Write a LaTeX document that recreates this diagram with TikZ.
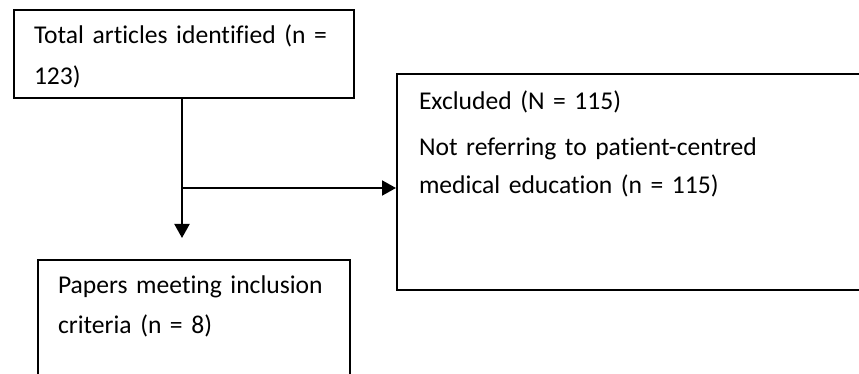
\documentclass[tikz,border=0pt]{standalone}
\usepackage{fontspec}
\setmainfont{Carlito}[Ligatures=NoCommon]
\usetikzlibrary{positioning, arrows.meta}

\begin{document}
\begin{tikzpicture}[
    x=0.5pt, y=-0.5pt,
    box/.style={draw, line width=1pt, anchor=north west, align=left, font=\fontsize{12.8}{20.5}\selectfont, inner xsep=10pt, inner ysep=8pt, text height=9pt},
    arr/.style={line width=1pt, -{Triangle[length=7pt, width=7.5pt]}}
  ]
  \useasboundingbox (0,0) rectangle (859,374);
  \clip (0,0) rectangle (859,374);

  \node[box, text width=150pt, text depth=19pt] (total) at (13,9) {Total~articles~identified~(n~=\\123)};
  \node[box, inner xsep=11pt, inner ysep=9pt, text width=218pt, text depth=81pt] (excluded) at (396,73) {Excluded (N = 115)\\[2.5pt]Not referring to patient-centred\\[-1.5pt]medical education (n = 115)};
  \node[box, text width=136pt, text depth=60pt] (included) at (37,259) {Papers~meeting~inclusion\\[-0.5pt]criteria (n = 8)};

  \coordinate (split) at ([xshift=-1pt]total.south |- 0,188);
  \coordinate (stop) at ([xshift=-1pt]total.south |- 0,238);

  \draw[arr] ([xshift=-1pt]total.south) -- (stop);
  \draw[arr] (split) -- (split -| excluded.west);
\end{tikzpicture}
\end{document}
